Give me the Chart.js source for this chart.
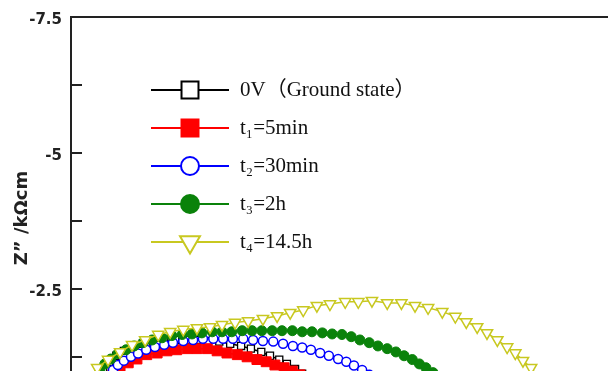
<!DOCTYPE html>
<html><head><meta charset="utf-8">
<script src="https://cdn.jsdelivr.net/npm/chart.js@4.4.1/dist/chart.umd.min.js"></script>
<style>
html,body{margin:0;padding:0;background:#fff;overflow:hidden;}
#wrap{position:relative;width:608px;height:371px;}
canvas{display:block;}
</style></head><body>
<div id="wrap"><canvas id="chart" width="608" height="371"></canvas></div>
<script>
// ---------------- data ----------------
const seriesNames = ['0V（Ground state）', 't₁=5min', 't₂=30min', 't₃=2h', 't₄=14.5h'];
const yTickValues = [-7.5, -6.25, -5, -3.75, -2.5, -1.25];
const yTickLabels = ['-7.5', '', '-5', '', '-2.5', ''];
const yAxisTitle = 'Z” /kΩcm';
const xRange = [0, 9.85];
const yRange = [-7.5, -1.0];

// 0V (ground state)
const x0V = [0.50,0.59,0.70,0.83,0.97,1.14,1.32,1.50,1.71,1.91,2.11,2.31,2.51,2.72,2.92,3.12,3.30,3.49,3.65,3.82,3.96,4.11,4.24];
const y0V = [-0.88,-1.04,-1.17,-1.28,-1.37,-1.44,-1.50,-1.54,-1.55,-1.57,-1.57,-1.57,-1.55,-1.54,-1.50,-1.46,-1.41,-1.35,-1.28,-1.21,-1.13,-1.04,-0.95];
// t1 = 5 min
const xT1 = [0.77,0.90,1.05,1.21,1.39,1.58,1.76,1.94,2.13,2.31,2.50,2.68,2.86,3.05,3.23,3.41,3.58,3.74,3.91,4.06,4.20];
const yT1 = [-0.93,-1.06,-1.15,-1.22,-1.30,-1.33,-1.37,-1.39,-1.41,-1.41,-1.41,-1.37,-1.33,-1.30,-1.26,-1.21,-1.17,-1.11,-1.06,-1.00,-0.93];
// t2 = 30 min
const xT2 = [0.68,0.77,0.86,0.97,1.10,1.23,1.38,1.54,1.71,1.87,2.06,2.24,2.42,2.61,2.79,2.97,3.16,3.34,3.52,3.71,3.89,4.07,4.24,4.40,4.57,4.73,4.90,5.05,5.19,5.34,5.47];
const yT2 = [-0.88,-1.02,-1.11,-1.19,-1.26,-1.32,-1.39,-1.44,-1.48,-1.52,-1.55,-1.57,-1.59,-1.59,-1.59,-1.59,-1.59,-1.57,-1.55,-1.54,-1.50,-1.46,-1.43,-1.39,-1.33,-1.28,-1.22,-1.17,-1.10,-1.02,-0.93];
// t3 = 2 h
const xT3 = [0.44,0.53,0.62,0.73,0.86,1.01,1.16,1.32,1.49,1.67,1.85,2.04,2.22,2.40,2.59,2.77,2.95,3.14,3.32,3.50,3.69,3.87,4.06,4.24,4.42,4.61,4.79,4.97,5.14,5.30,5.47,5.63,5.80,5.96,6.11,6.26,6.39,6.51,6.64,6.77];
const yT3 = [-0.84,-1.02,-1.13,-1.22,-1.32,-1.39,-1.46,-1.52,-1.57,-1.61,-1.65,-1.67,-1.68,-1.70,-1.72,-1.72,-1.72,-1.74,-1.74,-1.74,-1.74,-1.74,-1.74,-1.72,-1.72,-1.70,-1.68,-1.67,-1.63,-1.57,-1.52,-1.46,-1.41,-1.35,-1.28,-1.21,-1.13,-1.06,-0.97,-0.86];
// t4 = 14.5 h
const xT4 = [0.35,0.48,0.68,0.90,1.12,1.36,1.60,1.82,2.06,2.31,2.55,2.77,3.01,3.25,3.52,3.78,4.02,4.26,4.51,4.75,5.03,5.27,5.52,5.80,6.06,6.31,6.55,6.81,7.05,7.25,7.45,7.63,7.82,8.00,8.15,8.29,8.44,8.57];
const yT4 = [-0.84,-1.06,-1.21,-1.35,-1.48,-1.57,-1.67,-1.72,-1.76,-1.79,-1.81,-1.85,-1.89,-1.92,-1.96,-2.01,-2.07,-2.12,-2.20,-2.23,-2.27,-2.27,-2.29,-2.25,-2.25,-2.20,-2.16,-2.09,-2.00,-1.90,-1.81,-1.70,-1.57,-1.44,-1.33,-1.19,-1.06,-0.89];

// ---------------- chart ----------------
function pts(xs, ys) { return xs.map((x, i) => ({ x: x, y: ys[i] })); }

const legendRadius = [12, 12, 9, 9, 11.5];

const innerLegend = {
  id: 'innerLegend',
  afterDraw(chart) {
    const ctx = chart.ctx;
    ctx.save();
    chart.data.datasets.forEach((ds, i) => {
      const y = 90 + i * 38;
      ctx.strokeStyle = ds.borderColor;
      ctx.lineWidth = 2;
      ctx.beginPath(); ctx.moveTo(151, y); ctx.lineTo(229, y); ctx.stroke();
      const r = legendRadius[i];
      ctx.fillStyle = ds.backgroundColor;
      ctx.beginPath();
      if (ds.pointStyle === 'rect') {
        const s = r * Math.SQRT1_2;
        ctx.rect(190 - s, y - s, 2 * s, 2 * s);
      } else if (ds.pointStyle === 'triangle') {
        ctx.moveTo(190, y + r);
        ctx.lineTo(190 - r * Math.sin(Math.PI / 3), y - r / 2);
        ctx.lineTo(190 + r * Math.sin(Math.PI / 3), y - r / 2);
        ctx.closePath();
      } else {
        ctx.arc(190, y, r, 0, Math.PI * 2);
      }
      ctx.fill(); ctx.stroke();
      ctx.fillStyle = '#111';
      ctx.font = '21px "Liberation Serif", "Noto Sans CJK SC", serif';
      ctx.textAlign = 'left'; ctx.textBaseline = 'middle';
      ctx.fillText(ds.label, 240, y);
    });
    ctx.restore();
  }
};

const axisDecor = {
  id: 'axisDecor',
  afterDraw(chart) {
    const { ctx, chartArea } = chart;
    const ys = chart.scales.y;
    ctx.save();
    ctx.strokeStyle = '#222'; ctx.lineWidth = 2;
    yTickValues.forEach(v => {
      const py = Math.round(ys.getPixelForValue(v));
      ctx.beginPath(); ctx.moveTo(chartArea.left, py); ctx.lineTo(chartArea.left + 11, py); ctx.stroke();
    });
    ctx.translate(22, 218); ctx.rotate(-Math.PI / 2);
    ctx.font = 'bold 18px "DejaVu Sans"';
    ctx.fillStyle = '#222'; ctx.textAlign = 'center'; ctx.textBaseline = 'middle';
    ctx.fillText(yAxisTitle, 0, 0);
    ctx.restore();
  }
};

new Chart(document.getElementById('chart'), {
  type: 'scatter',
  data: {
    datasets: [
      { label: seriesNames[0], data: pts(x0V, y0V), showLine: true, order: 5,
        borderColor: '#000000', backgroundColor: '#ffffff', pointStyle: 'rect', pointRadius: 5, pointBorderWidth: 1.3, borderWidth: 1.5 },
      { label: seriesNames[1], data: pts(xT1, yT1), showLine: true, order: 4,
        borderColor: '#ff0000', backgroundColor: '#ff0000', pointStyle: 'rect', pointRadius: 7, pointBorderWidth: 1, borderWidth: 1.5 },
      { label: seriesNames[2], data: pts(xT2, yT2), showLine: true, order: 3,
        borderColor: '#0000ff', backgroundColor: '#ffffff', pointStyle: 'circle', pointRadius: 4.5, pointBorderWidth: 1.5, borderWidth: 1.5 },
      { label: seriesNames[3], data: pts(xT3, yT3), showLine: true, order: 2,
        borderColor: '#0a820a', backgroundColor: '#0a820a', pointStyle: 'circle', pointRadius: 5, pointBorderWidth: 1, borderWidth: 1.5 },
      { label: seriesNames[4], data: pts(xT4, yT4), showLine: true, order: 1,
        borderColor: '#c8c820', backgroundColor: '#ffffff', pointStyle: 'triangle', pointRotation: 180, pointRadius: 6.5, pointBorderWidth: 1.5, borderWidth: 1.5 }
    ]
  },
  options: {
    responsive: false,
    animation: false,
    events: [],
    layout: { padding: 0, autoPadding: false },
    plugins: { legend: { display: false }, tooltip: { enabled: false } },
    scales: {
      x: { type: 'linear', min: xRange[0], max: xRange[1], display: false },
      xTop: { type: 'linear', position: 'top', min: xRange[0], max: xRange[1],
        ticks: { display: false }, grid: { display: false, drawTicks: false },
        border: { display: true, color: '#222', width: 2 },
        afterFit(s) { s.height = 17; s.paddingLeft = 0; s.paddingRight = 0; } },
      y: { type: 'linear', reverse: true, min: yRange[0], max: yRange[1],
        afterFit(s) { s.width = 71; s.paddingTop = 0; s.paddingBottom = 0; },
        afterBuildTicks(s) { s.ticks = yTickValues.map(v => ({ value: v })); },
        ticks: { autoSkip: false, padding: 9, labelOffset: 3, color: '#222',
          font: { family: '"DejaVu Sans"', size: 15, weight: 'bold' },
          callback: (v) => { const i = yTickValues.indexOf(v); return i >= 0 ? yTickLabels[i] : ''; } },
        grid: { display: false, drawTicks: false },
        border: { display: true, color: '#222', width: 2 } }
    }
  },
  plugins: [axisDecor, innerLegend]
});
</script>
</body></html>
